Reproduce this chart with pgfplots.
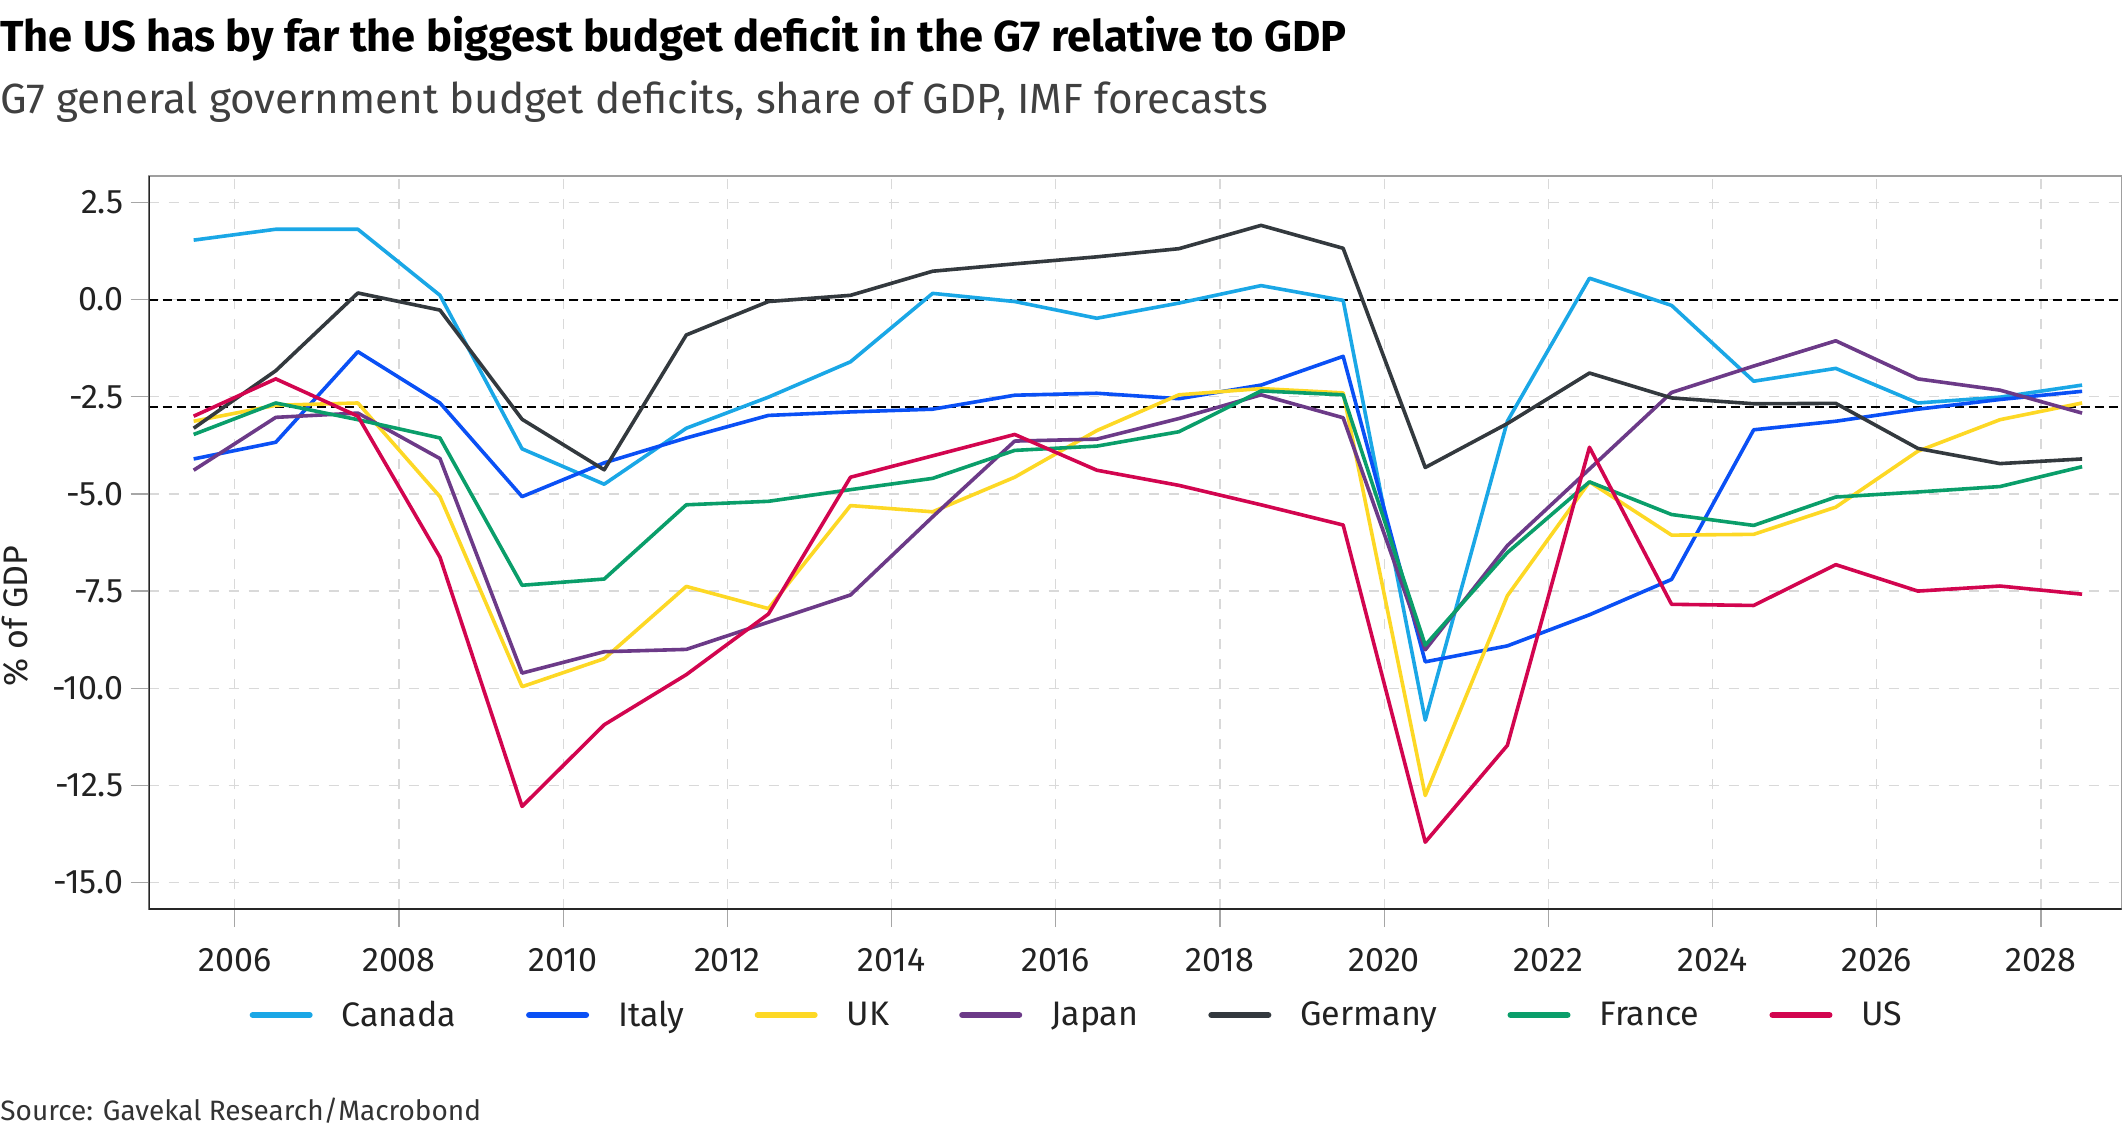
\documentclass[border=0pt]{standalone}
\usepackage{fontspec}
\setmainfont{Fira Sans}
\usepackage{pgfplots}
\usepackage{pgfplotstable}
\pgfplotsset{compat=1.18}
\definecolor{cCanada}{HTML}{1AA7E6}
\definecolor{cItaly}{HTML}{0A50F5}
\definecolor{cUK}{HTML}{FDD825}
\definecolor{cJapan}{HTML}{6C3A88}
\definecolor{cGermany}{HTML}{33393E}
\definecolor{cFrance}{HTML}{0A9E6A}
\definecolor{cUS}{HTML}{D2054F}
\definecolor{txt}{HTML}{222222}

\pgfplotstableread{
year   Canada  Italy  UK     Japan  Germany France US
2005.5  1.53  -4.10  -3.13  -4.39  -3.31  -3.47  -3.00
2006.5  1.81  -3.67  -2.72  -3.03  -1.83  -2.66  -2.04
2007.5  1.81  -1.34  -2.66  -2.92   0.17  -3.09  -3.00
2008.5  0.11  -2.66  -5.07  -4.09  -0.27  -3.56  -6.63
2009.5 -3.84  -5.07  -9.96  -9.61  -3.08  -7.35 -13.04
2010.5 -4.75  -4.20  -9.24  -9.06  -4.38  -7.19 -10.94
2011.5 -3.31  -3.56  -7.38  -9.00  -0.91  -5.28  -9.65
2012.5 -2.51  -2.98  -7.95  -8.30  -0.05  -5.19  -8.09
2013.5 -1.60  -2.89  -5.30  -7.60   0.11  -4.89  -4.57
2014.5  0.16  -2.82  -5.46  -5.59   0.73  -4.60  -4.02
2015.5 -0.05  -2.46  -4.57  -3.64   0.92  -3.88  -3.47
2016.5 -0.48  -2.41  -3.37  -3.59   1.10  -3.77  -4.39
2017.5 -0.09  -2.55  -2.45  -3.06   1.31  -3.40  -4.78
2018.5  0.36  -2.20  -2.29  -2.45   1.91  -2.35  -5.28
2019.5 -0.02  -1.46  -2.40  -3.04   1.32  -2.45  -5.80
2020.5 -10.82 -9.32 -12.76  -9.01  -4.32  -8.89 -13.96
2021.5 -3.13  -8.91  -7.62  -6.33  -3.19  -6.51 -11.47
2022.5  0.55  -8.11  -4.69  -4.36  -1.89  -4.69  -3.80
2023.5 -0.15  -7.20  -6.06  -2.39  -2.53  -5.53  -7.84
2024.5 -2.10  -3.35  -6.04  -1.71  -2.68  -5.81  -7.87
2025.5 -1.77  -3.13  -5.34  -1.06  -2.67  -5.08  -6.82
2026.5 -2.66  -2.82  -3.90  -2.04  -3.83  -4.95  -7.50
2027.5 -2.51  -2.57  -3.09  -2.33  -4.22  -4.81  -7.37
2028.5 -2.20  -2.36  -2.66  -2.92  -4.10  -4.30  -7.58
}\data

\begin{document}
\begin{tikzpicture}[x=1pt,y=1pt]
\useasboundingbox (0,0) rectangle (1063,566);
\node[anchor=base west, inner sep=0, text=black, font=\fontsize{21.7}{26}\selectfont\bfseries] at (0,540) {The US has by far the biggest budget deficit in the G7 relative to GDP};
\node[anchor=base west, inner sep=0, text=black!75, font=\fontsize{21.1}{25}\selectfont] at (0,509.3) {G7 general government budget deficits, share of GDP, IMF forecasts};
\node[anchor=base west, inner sep=0, text=black!80, font=\fontsize{14}{17}\selectfont] at (0,6) {Source: Gavekal Research/Macrobond};
\node[rotate=90, anchor=center, inner sep=0, text=txt, font=\fontsize{17}{20}\selectfont] at (7.5,258) {\% of GDP};
\begin{axis}[
  at={(74.25pt,111.5pt)}, anchor=south west,
  scale only axis, width=986.5pt, height=366.5pt,
  xmin=2004.95, xmax=2028.98, ymin=-15.68, ymax=3.18,
  xtick={2006,2008,...,2028},
  xticklabels={2006,2008,2010,2012,2014,2016,2018,2020,2022,2024,2026,2028},
  ytick={-15,-12.5,-10,-7.5,-5,-2.5,0,2.5},
  yticklabels={-15.0,-12.5,-10.0,-7.5,-5.0,-2.5,0.0,2.5},
  xtick pos=bottom, ytick pos=left,
  tick align=outside, major tick length=9pt,
  tick style={draw=gray!70, line width=0.6pt},
  tick label style={font=\fontsize{17}{20}\selectfont, text=txt},
  xticklabel style={yshift=-7.4pt},
  grid=major,
  major grid style={draw=gray!30, line width=0.6pt, dash pattern=on 5pt off 5pt},
  axis line style={draw=gray!75, line width=0.6pt},
  legend columns=7,
  legend style={at={(0.4711,-0.1446)}, anchor=center, draw=none, fill=none,
    font=\fontsize{17}{20}\selectfont, text=txt,
    /tikz/every odd column/.append style={column sep=12.5pt},
    /tikz/every even column/.append style={column sep=33pt}},
  legend image code/.code={\draw[#1, line width=3pt, line cap=round] (1.5pt,0pt) -- (30pt,0pt);},
  every axis plot/.append style={line width=1.8pt, line join=round},
]
\addplot[forget plot, black, line width=1pt, dash pattern=on 4.5pt off 2.5pt] coordinates {(2004.95,0) (2028.98,0)};
\addplot[forget plot, black, line width=1pt, dash pattern=on 4.5pt off 2.5pt] coordinates {(2004.95,-2.76) (2028.98,-2.76)};
\addplot[cCanada] table[x=year, y=Canada] {\data};
\addlegendentry{Canada}
\addplot[cItaly] table[x=year, y=Italy] {\data};
\addlegendentry{Italy}
\addplot[cUK] table[x=year, y=UK] {\data};
\addlegendentry{UK}
\addplot[cJapan] table[x=year, y=Japan] {\data};
\addlegendentry{Japan}
\addplot[cGermany] table[x=year, y=Germany] {\data};
\addlegendentry{Germany}
\addplot[cFrance] table[x=year, y=France] {\data};
\addlegendentry{France}
\addplot[cUS] table[x=year, y=US] {\data};
\addlegendentry{US}
\draw[black!85, line width=1pt] (rel axis cs:0,1) -- (rel axis cs:0,0) -- (rel axis cs:1,0);
\end{axis}
\end{tikzpicture}
\end{document}
